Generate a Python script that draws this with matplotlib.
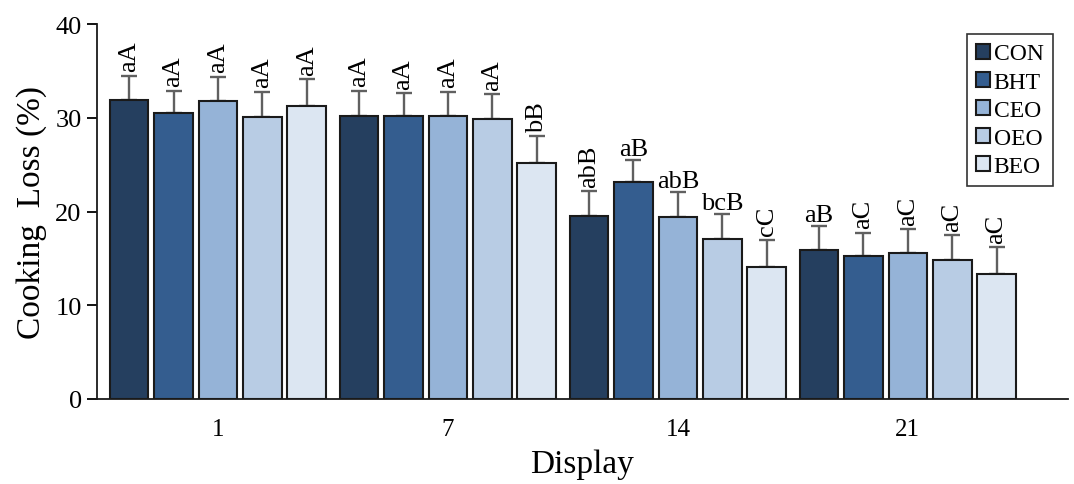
import matplotlib.pyplot as plt
import numpy as np

plt.rcParams['font.family'] = ['Liberation Serif', 'DejaVu Serif']

days = ['1', '7', '14', '21']
treatments = ['CON', 'BHT', 'CEO', 'OEO', 'BEO']
colors = ['#253f5f', '#345d8f', '#95b3d7', '#b8cce4', '#dce6f2']

# cooking loss (%) per treatment, one value per display day
means = {
    'CON': [31.95, 30.2, 19.55, 15.9],
    'BHT': [30.5, 30.2, 23.1, 15.3],
    'CEO': [31.8, 30.15, 19.4, 15.55],
    'OEO': [30.1, 29.9, 17.05, 14.8],
    'BEO': [31.25, 25.15, 14.1, 13.3],
}
errors = {
    'CON': [2.55, 2.7, 2.6, 2.6],
    'BHT': [2.4, 2.4, 2.35, 2.45],
    'CEO': [2.6, 2.65, 2.65, 2.6],
    'OEO': [2.7, 2.6, 2.7, 2.7],
    'BEO': [2.9, 2.9, 2.9, 2.9],
}
letters = {
    'CON': ['aA', 'aA', 'abB', 'aB'],
    'BHT': ['aA', 'aA', 'aB', 'aC'],
    'CEO': ['aA', 'aA', 'abB', 'aC'],
    'OEO': ['aA', 'aA', 'bcB', 'aC'],
    'BEO': ['aA', 'bB', 'cC', 'aC'],
}
# labels written horizontally in the original (others are rotated)
horizontal = {('BHT', 2), ('CEO', 2), ('OEO', 2), ('CON', 3)}

fig = plt.figure(figsize=(10.74, 4.85), dpi=100)
ax = fig.add_axes([0.0903, 0.1753, 0.904, 0.773])

x = np.arange(len(days))
width = 0.168
step = 0.193

for i, t in enumerate(treatments):
    pos = x + (i - 2) * step
    ax.bar(pos, means[t], width, color=colors[i], edgecolor='#1a1a1a',
           linewidth=1.5, label=t, zorder=2)
    ax.errorbar(pos, means[t], yerr=[np.zeros(4), errors[t]], fmt='none',
                ecolor='#606060', elinewidth=1.7, capsize=6, capthick=1.7, zorder=1)
    for j in range(len(days)):
        top = means[t][j] + errors[t][j]
        if (t, j) in horizontal:
            ax.annotate(letters[t][j], (pos[j], top), xytext=(0, 0),
                        textcoords='offset points', ha='center', va='bottom',
                        fontsize=19)
        else:
            ax.annotate(letters[t][j], (pos[j], top), xytext=(0, 3),
                        textcoords='offset points', ha='center', va='bottom',
                        rotation=90, fontsize=19)

ax.set_xlim(-0.526, 3.696)
ax.set_ylim(0, 40)
ax.set_yticks([0, 10, 20, 30, 40])
ax.set_xticks(x)
ax.set_xticklabels(days)
ax.tick_params(axis='x', length=0, pad=14, labelsize=18)
ax.tick_params(axis='y', length=7, width=1.3, direction='out', labelsize=19, pad=4)

for s in ['top', 'right']:
    ax.spines[s].set_visible(False)
for s in ['left', 'bottom']:
    ax.spines[s].set_linewidth(1.3)
    ax.spines[s].set_color('#1a1a1a')

ax.set_ylabel('Cooking  Loss (%)', fontsize=24, labelpad=6)
ax.set_xlabel('Display', fontsize=24, labelpad=6)

leg = ax.legend(loc='upper right', bbox_to_anchor=(0.997, 1.005), fontsize=17,
                frameon=True, fancybox=False, handlelength=0.6, handleheight=0.6,
                handletextpad=0.15, labelspacing=0.3, borderpad=0.4)
leg.get_frame().set_edgecolor('black')
leg.get_frame().set_linewidth(1.2)

fig.savefig('out.png', dpi=100)
